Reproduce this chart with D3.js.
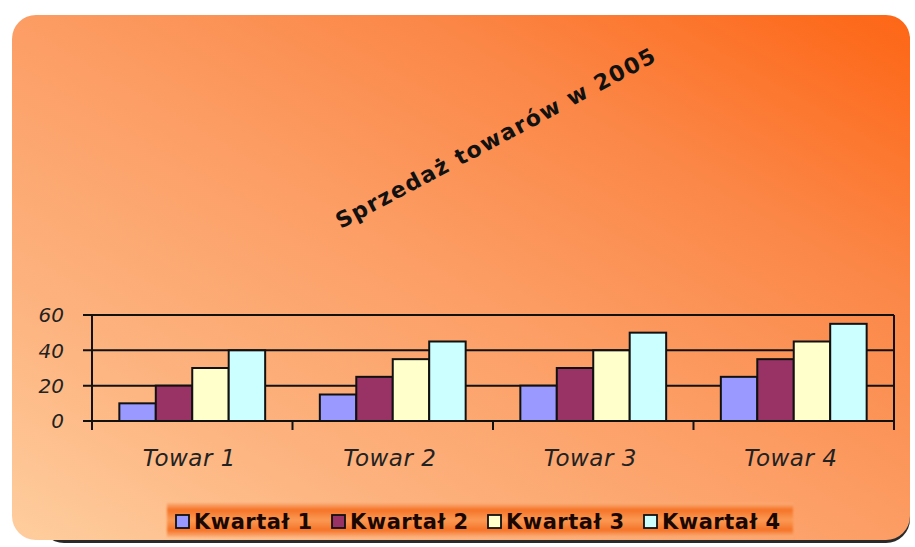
<!doctype html>
<html lang="pl">
<head>
<meta charset="UTF-8">
<title>Sprzedaż towarów w 2005</title>
<style>
    body { margin: 0; background: #fff; }
    svg { display: block; }
    .axis-line { stroke: #111; stroke-width: 2; }
    .bar { stroke: #111; stroke-width: 2; }
    .ylab { font: italic 20px "DejaVu Sans", sans-serif; fill: #222; }
    .xlab { font: italic 23px "DejaVu Sans", sans-serif; fill: #222; letter-spacing: 0.5px; }
    .title { font: bold 22px "DejaVu Sans", sans-serif; fill: #111; letter-spacing: 1.5px; }
    .legtext { font: bold 21px "DejaVu Sans", sans-serif; fill: #1a0800; letter-spacing: 0.5px; }
</style>
</head>
<body>
<div id="chart"></div>
<script src="https://cdn.jsdelivr.net/npm/d3@7"></script>
<script>
    // data
    const categories = ['Towar 1', 'Towar 2', 'Towar 3', 'Towar 4']
    const seriesNames = ['Kwartał 1', 'Kwartał 2', 'Kwartał 3', 'Kwartał 4']
    const kwartal1 = [10, 15, 20, 25]
    const kwartal2 = [20, 25, 30, 35]
    const kwartal3 = [30, 35, 40, 45]
    const kwartal4 = [40, 45, 50, 55]
    const yTicks = [0, 20, 40, 60]
    const colors = ['#9999ff', '#993366', '#ffffcc', '#ccffff']

    const seriesValues = [kwartal1, kwartal2, kwartal3, kwartal4]
    const rows = []
    categories.forEach(function(c, i) {
        seriesNames.forEach(function(s, j) {
            rows.push({ cat: c, series: s, value: seriesValues[j][i], idx: j })
        })
    })

    const width = 915, height = 547
    const plot = { left: 92, right: 894, top: 315, bottom: 421 }

    const svg = d3.select('#chart').append('svg')
        .attr('width', width)
        .attr('height', height)

    // background gradient, light bottom-left -> deep orange top-right
    const defs = svg.append('defs')
    const grad = defs.append('linearGradient')
        .attr('id', 'bg')
        .attr('gradientUnits', 'userSpaceOnUse')
        .attr('x1', 199).attr('y1', 726)
        .attr('x2', 723).attr('y2', -172)
    grad.append('stop').attr('offset', 0).attr('stop-color', '#ffd6a8')
    grad.append('stop').attr('offset', 0.25).attr('stop-color', '#fdb581')
    grad.append('stop').attr('offset', 0.5).attr('stop-color', '#fc9d64')
    grad.append('stop').attr('offset', 0.7).attr('stop-color', '#fb8747')
    grad.append('stop').attr('offset', 0.9).attr('stop-color', '#fd6a1c')
    grad.append('stop').attr('offset', 1).attr('stop-color', '#ff5f0c')

    const legGrad = defs.append('linearGradient')
        .attr('id', 'leg')
        .attr('x1', 0).attr('y1', 0).attr('x2', 0).attr('y2', 1)
    legGrad.append('stop').attr('offset', 0).attr('stop-color', '#fbb07c')
    legGrad.append('stop').attr('offset', 0.2).attr('stop-color', '#f57326')
    legGrad.append('stop').attr('offset', 0.5).attr('stop-color', '#fb9a55')
    legGrad.append('stop').attr('offset', 0.8).attr('stop-color', '#f57326')
    legGrad.append('stop').attr('offset', 1).attr('stop-color', '#fbb07c')

    defs.append('filter').attr('id', 'soft')
        .append('feGaussianBlur').attr('stdDeviation', 1.2)

    // shadow (bottom only) + panel
    svg.append('rect')
        .attr('x', 40).attr('y', 18)
        .attr('width', 870).attr('height', 525)
        .attr('rx', 24)
        .attr('fill', '#2a2a2a')
    svg.append('rect')
        .attr('x', 12).attr('y', 15)
        .attr('width', 898).attr('height', 525)
        .attr('rx', 24)
        .attr('fill', 'url(#bg)')

    // title
    svg.append('text')
        .attr('class', 'title')
        .attr('text-anchor', 'middle')
        .attr('dominant-baseline', 'central')
        .attr('transform', 'translate(496,138) rotate(-28)')
        .text('Sprzedaż towarów w 2005')

    // scales
    const x = d3.scaleBand()
        .domain(categories)
        .range([plot.left, plot.right])
    const xInner = d3.scaleBand()
        .domain(seriesNames)
        .range([0, x.bandwidth()])
        .paddingOuter(0.75)
    const y = d3.scaleLinear()
        .domain([0, 60])
        .range([plot.bottom, plot.top])

    // gridlines
    svg.append('g').selectAll('line')
        .data(yTicks)
        .enter().append('line')
        .attr('class', 'axis-line')
        .attr('x1', plot.left - 9)
        .attr('x2', plot.right)
        .attr('y1', d => y(d))
        .attr('y2', d => y(d))

    // bars
    svg.append('g').selectAll('rect')
        .data(rows)
        .enter().append('rect')
        .attr('class', 'bar')
        .attr('x', d => x(d.cat) + xInner(d.series))
        .attr('y', d => y(d.value))
        .attr('width', xInner.bandwidth())
        .attr('height', d => y(0) - y(d.value))
        .attr('fill', d => colors[d.idx])

    // axes frame
    svg.append('line').attr('class', 'axis-line')
        .attr('x1', plot.left).attr('x2', plot.left)
        .attr('y1', plot.top).attr('y2', plot.bottom + 9)
    svg.append('line').attr('class', 'axis-line')
        .attr('x1', plot.right).attr('x2', plot.right)
        .attr('y1', plot.top).attr('y2', plot.bottom + 9)
    svg.append('g').selectAll('line')
        .data(categories.slice(1))
        .enter().append('line')
        .attr('class', 'axis-line')
        .attr('x1', d => x(d)).attr('x2', d => x(d))
        .attr('y1', plot.bottom).attr('y2', plot.bottom + 9)

    // y labels
    svg.append('g').selectAll('text')
        .data(yTicks)
        .enter().append('text')
        .attr('class', 'ylab')
        .attr('x', 64)
        .attr('y', d => y(d))
        .attr('dy', '0.36em')
        .attr('text-anchor', 'end')
        .text(d => d)

    // x labels
    svg.append('g').selectAll('text')
        .data(categories)
        .enter().append('text')
        .attr('class', 'xlab')
        .attr('x', d => x(d) + x.bandwidth() / 2 - 3)
        .attr('y', 466)
        .attr('text-anchor', 'middle')
        .text(d => d)

    // legend
    const legend = svg.append('g')
    legend.append('rect')
        .attr('x', 167).attr('y', 503)
        .attr('width', 626).attr('height', 34)
        .attr('fill', 'url(#leg)')
        .attr('filter', 'url(#soft)')
    const items = legend.selectAll('g.item')
        .data(seriesNames)
        .enter().append('g')
        .attr('class', 'item')
        .attr('transform', (d, i) => 'translate(' + (176 + i * 156) + ',0)')
    items.append('rect')
        .attr('x', 0).attr('y', 515)
        .attr('width', 13).attr('height', 13)
        .attr('fill', (d, i) => colors[i])
        .attr('stroke', '#111')
        .attr('stroke-width', 1.8)
    items.append('text')
        .attr('class', 'legtext')
        .attr('x', 18)
        .attr('y', 529)
        .text(d => d)
</script>
</body>
</html>
